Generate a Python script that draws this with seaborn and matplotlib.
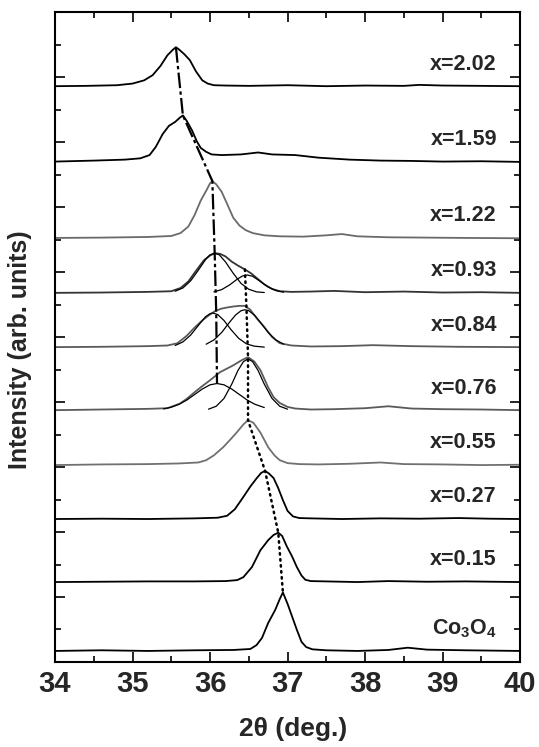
import matplotlib
matplotlib.use("Agg")
import matplotlib.pyplot as plt
import seaborn as sns
import pandas as pd

# ---- data (2theta in deg, intensity above each baseline) ----
labels = ["x=2.02", "x=1.59", "x=1.22", "x=0.93", "x=0.84",
          "x=0.76", "x=0.55", "x=0.27", "x=0.15", r"Co$_\mathbf{3}$O$_\mathbf{4}$"]
offsets = [17.72, 15.40, 13.05, 11.36, 9.69, 7.75, 6.06, 4.40, 2.46, 0.34]

tth_202 = [34.0, 34.4, 34.8, 35.0, 35.15, 35.26, 35.36, 35.45, 35.52, 35.56, 35.6, 35.67, 35.74,
           35.82, 35.9, 35.97, 36.05, 36.2, 36.5, 37.0, 37.5, 38.0, 38.5, 38.7, 39.0, 39.5, 40.0]
int_202 = [0.0, 0.01, 0.03, 0.08, 0.18, 0.34, 0.62, 0.95, 1.12, 1.2, 1.13, 0.98, 0.8,
           0.45, 0.18, 0.08, 0.03, 0.02, 0.01, 0.03, 0.0, 0.02, 0.01, 0.04, 0.02, 0.01, 0.0]

tth_159 = [34.0, 34.5, 34.9, 35.1, 35.22, 35.3, 35.39, 35.47, 35.55, 35.61, 35.65, 35.7, 35.77,
           35.83, 35.88, 35.95, 36.02, 36.15, 36.4, 36.62, 36.8, 37.1, 37.4, 37.8, 38.2, 38.6,
           39.0, 39.5, 40.0]
int_159 = [0.0, 0.03, 0.06, 0.1, 0.2, 0.45, 0.85, 1.1, 1.22, 1.35, 1.42, 1.25, 0.95,
           0.62, 0.42, 0.3, 0.22, 0.2, 0.22, 0.28, 0.22, 0.2, 0.12, 0.06, 0.03, 0.02,
           0.0, 0.01, -0.01]

tth_122 = [34.0, 34.6, 35.2, 35.5, 35.62, 35.72, 35.8, 35.88, 35.95, 36.0, 36.03, 36.08, 36.15,
           36.22, 36.3, 36.38, 36.46, 36.55, 36.7, 36.9, 37.2, 37.5, 37.7, 37.9, 38.3, 38.8,
           39.3, 40.0]
int_122 = [0.0, 0.01, 0.03, 0.06, 0.15, 0.35, 0.7, 1.15, 1.45, 1.68, 1.75, 1.65, 1.42,
           1.05, 0.62, 0.38, 0.24, 0.15, 0.08, 0.05, 0.04, 0.08, 0.12, 0.05, 0.02, 0.01,
           0.0, -0.01]

tth_093 = [34.0, 34.6, 35.2, 35.5, 35.62, 35.72, 35.82, 35.92, 36.0, 36.06, 36.13, 36.2, 36.28,
           36.36, 36.45, 36.53, 36.62, 36.7, 36.8, 36.9, 37.05, 37.3, 37.6, 38.0, 38.5, 39.0,
           39.5, 40.0]
int_093 = [0.0, 0.01, 0.03, 0.05, 0.15, 0.35, 0.68, 1.0, 1.15, 1.22, 1.2, 1.12, 0.96,
           0.84, 0.72, 0.6, 0.42, 0.26, 0.12, 0.05, 0.03, 0.04, 0.06, 0.02, 0.04, 0.01,
           0.02, 0.0]
tth_093a = [35.55, 35.65, 35.75, 35.85, 35.95, 36.0, 36.06, 36.12, 36.2, 36.3, 36.4, 36.5, 36.6, 36.7]
int_093a = [0.05, 0.15, 0.37, 0.7, 1.05, 1.17, 1.22, 1.17, 0.95, 0.6, 0.29, 0.11, 0.03, 0.01]
tth_093b = [36.05, 36.15, 36.25, 36.35, 36.42, 36.48, 36.55, 36.65, 36.75, 36.85, 36.95]
int_093b = [0.03, 0.1, 0.24, 0.42, 0.52, 0.55, 0.51, 0.35, 0.18, 0.07, 0.02]

tth_084 = [34.0, 34.6, 35.2, 35.45, 35.58, 35.7, 35.8, 35.9, 35.98, 36.06, 36.14, 36.22, 36.3,
           36.38, 36.45, 36.52, 36.6, 36.7, 36.8, 36.9, 37.05, 37.3, 37.7, 38.1, 38.6, 39.2, 40.0]
int_084 = [0.0, 0.01, 0.03, 0.05, 0.12, 0.35, 0.6, 0.82, 0.97, 1.1, 1.18, 1.22, 1.25,
           1.27, 1.27, 1.15, 0.89, 0.62, 0.31, 0.12, 0.05, 0.02, 0.03, 0.06, 0.03, 0.01, 0.0]
tth_084a = [35.55, 35.65, 35.75, 35.85, 35.94, 36.0, 36.04, 36.1, 36.18, 36.27, 36.37, 36.47, 36.57, 36.7]
int_084a = [0.05, 0.16, 0.37, 0.67, 0.93, 1.03, 1.05, 1.0, 0.82, 0.54, 0.27, 0.1, 0.03, 0.0]
tth_084b = [35.95, 36.05, 36.15, 36.25, 36.33, 36.4, 36.45, 36.5, 36.58, 36.66, 36.75, 36.85, 36.95]
int_084b = [0.09, 0.22, 0.45, 0.76, 0.99, 1.12, 1.15, 1.12, 0.97, 0.73, 0.45, 0.22, 0.09]

tth_076 = [34.0, 34.6, 35.2, 35.45, 35.61, 35.7, 35.8, 35.9, 36.0, 36.13, 36.3, 36.41, 36.49,
           36.57, 36.65, 36.75, 36.82, 36.9, 37.0, 37.1, 37.3, 37.6, 38.0, 38.3, 38.6, 39.0,
           39.5, 40.0]
int_076 = [0.0, 0.02, 0.04, 0.06, 0.2, 0.35, 0.55, 0.74, 0.92, 1.17, 1.38, 1.54, 1.63,
           1.5, 1.23, 0.7, 0.4, 0.22, 0.1, 0.05, 0.02, 0.03, 0.06, 0.12, 0.05, 0.03,
           0.02, 0.0]
tth_076a = [35.4, 35.5, 35.6, 35.7, 35.8, 35.9, 36.0, 36.09, 36.18, 36.28, 36.38, 36.48, 36.58, 36.7]
int_076a = [0.04, 0.09, 0.18, 0.31, 0.48, 0.65, 0.78, 0.82, 0.78, 0.65, 0.48, 0.31, 0.18, 0.08]
tth_076b = [35.98, 36.08, 36.18, 36.28, 36.36, 36.43, 36.49, 36.55, 36.62, 36.7, 36.8, 36.9, 37.0]
int_076b = [0.03, 0.12, 0.36, 0.8, 1.22, 1.49, 1.58, 1.49, 1.22, 0.8, 0.36, 0.12, 0.03]

tth_055 = [34.0, 34.6, 35.2, 35.6, 35.85, 35.95, 36.05, 36.17, 36.26, 36.35, 36.43, 36.49, 36.56,
           36.65, 36.75, 36.83, 36.9, 37.0, 37.15, 37.4, 37.8, 38.2, 38.5, 39.0, 39.5, 40.0]
int_055 = [0.0, 0.02, 0.03, 0.05, 0.08, 0.15, 0.3, 0.55, 0.78, 1.02, 1.25, 1.38, 1.3,
           1.0, 0.55, 0.3, 0.15, 0.06, 0.03, 0.02, 0.04, 0.08, 0.03, 0.02, 0.0, 0.01]

tth_027 = [34.0, 34.6, 35.2, 35.8, 36.1, 36.22, 36.32, 36.43, 36.52, 36.6, 36.66, 36.71, 36.76,
           36.82, 36.88, 36.94, 37.0, 37.07, 37.15, 37.3, 37.7, 38.2, 38.7, 39.2, 39.6, 40.0]
int_027 = [0.0, 0.01, 0.0, 0.02, 0.04, 0.1, 0.3, 0.68, 1.0, 1.25, 1.42, 1.48, 1.4,
           1.26, 0.95, 0.58, 0.25, 0.08, 0.03, 0.02, 0.0, 0.02, 0.01, 0.03, 0.01, 0.0]

tth_015 = [34.0, 34.6, 35.2, 35.8, 36.2, 36.35, 36.43, 36.54, 36.65, 36.75, 36.82, 36.88, 36.93,
           36.99, 37.06, 37.12, 37.18, 37.23, 37.3, 37.5, 37.9, 38.3, 38.8, 39.3, 40.0]
int_015 = [0.0, 0.01, 0.02, 0.02, 0.03, 0.06, 0.15, 0.46, 0.98, 1.29, 1.45, 1.52, 1.42,
           1.1, 0.78, 0.46, 0.2, 0.07, 0.03, 0.02, 0.0, 0.03, 0.01, 0.02, 0.0]

tth_co = [34.0, 34.6, 35.2, 35.8, 36.3, 36.52, 36.6, 36.67, 36.75, 36.84, 36.9, 36.94, 37.0,
          37.06, 37.12, 37.18, 37.24, 37.32, 37.5, 37.9, 38.3, 38.55, 38.8, 39.3, 40.0]
int_co = [0.0, 0.02, 0.0, 0.02, 0.03, 0.06, 0.18, 0.4, 0.86, 1.26, 1.6, 1.8, 1.45,
          1.05, 0.65, 0.28, 0.12, 0.05, 0.02, 0.0, 0.03, 0.1, 0.04, 0.02, 0.0]

# peak-shift guides (stacked coordinates)
dashdot_tth = [35.56, 35.65, 36.03, 36.06, 36.08, 36.09]
dashdot_y = [18.92, 16.82, 14.80, 12.58, 10.74, 8.57]
dotted_tth = [36.45, 36.47, 36.49, 36.49, 36.71, 36.88, 36.94]
dotted_y = [12.08, 10.90, 9.38, 7.44, 5.88, 3.98, 2.14]

# ---- figure ----
sns.set_theme(style="ticks")
plt.rcParams["font.family"] = ["Liberation Sans", "DejaVu Sans"]
plt.rcParams["mathtext.fontset"] = "custom"
plt.rcParams["mathtext.rm"] = "Liberation Sans"
plt.rcParams["mathtext.bf"] = "Liberation Sans:bold"

fig = plt.figure(figsize=(5.39, 7.47), dpi=100)
ax = fig.add_axes([0.102, 0.1138, 0.863, 0.870])

curves = [
    (tth_202, int_202, "black"), (tth_159, int_159, "black"), (tth_122, int_122, "#6a6a6a"),
    (tth_093, int_093, "#333333"), (tth_084, int_084, "#5a5a5a"), (tth_076, int_076, "#5a5a5a"),
    (tth_055, int_055, "#707070"), (tth_027, int_027, "black"), (tth_015, int_015, "black"),
    (tth_co, int_co, "black"),
]
for (tth, inten, col), off in zip(curves, offsets):
    df = pd.DataFrame({"tth": tth, "I": [v + off for v in inten]})
    sns.lineplot(data=df, x="tth", y="I", ax=ax, color=col, lw=1.3, sort=False, estimator=None)

# fitted components
components = [
    (tth_093a, int_093a, offsets[3]), (tth_093b, int_093b, offsets[3]),
    (tth_084a, int_084a, offsets[4]), (tth_084b, int_084b, offsets[4]),
    (tth_076a, int_076a, offsets[5]), (tth_076b, int_076b, offsets[5]),
]
for tth, inten, off in components:
    sns.lineplot(x=tth, y=[v + off for v in inten], ax=ax, color="black", lw=0.9,
                 sort=False, estimator=None)

sns.lineplot(x=dashdot_tth, y=dashdot_y, ax=ax, color="black", lw=1.6,
             linestyle=(0, (7, 1.5, 1.5, 1.5)), sort=False, estimator=None)
sns.lineplot(x=dotted_tth, y=dotted_y, ax=ax, color="black", lw=1.8,
             linestyle=(0, (0.6, 1.8)), dash_capstyle="round", sort=False, estimator=None)

for lab, off in zip(labels, offsets):
    ax.text(39.7, off + 0.68, lab, ha="right", va="center", fontsize=15.5, fontweight="bold")

ax.set_xlim(34, 40)
ax.set_ylim(0, 20)
ax.set_xticks(range(34, 41))
ax.set_xticks([34.5 + i for i in range(6)], minor=True)
ax.set_yticks(range(0, 21, 2))
ax.set_yticks(range(1, 20, 2), minor=True)
ax.set_yticklabels([])
ax.tick_params(which="both", direction="in", top=True, right=True, width=1.2, color="black")
ax.tick_params(which="major", length=7, labelsize=21, pad=6)
ax.tick_params(which="minor", length=4)
for lbl in ax.get_xticklabels():
    lbl.set_fontweight("bold")
for sp in ax.spines.values():
    sp.set_linewidth(1.5)
    sp.set_color("black")

ax.set_xlabel("2θ (deg.)", fontsize=19, fontweight="bold")
ax.set_ylabel("Intensity (arb. units)", fontsize=18, fontweight="bold")
ax.xaxis.set_label_coords(0.512, -0.085)
ax.yaxis.set_label_coords(-0.05, 0.48)

fig.savefig("out.png", dpi=100)
plt.close(fig)
